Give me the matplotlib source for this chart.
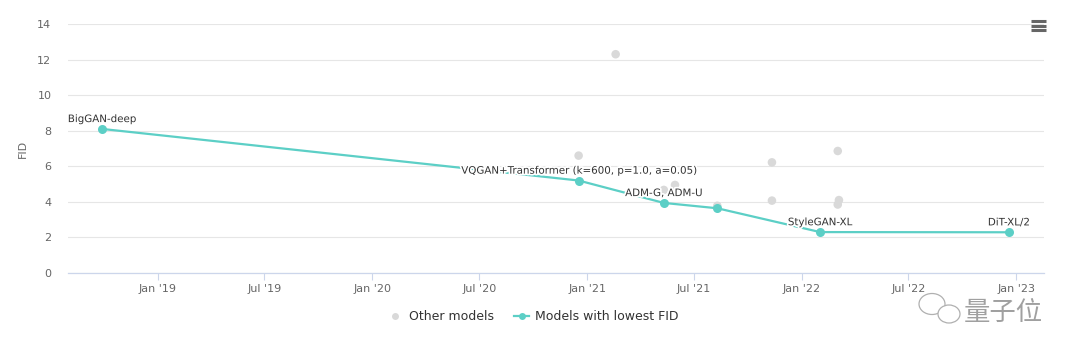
import matplotlib
matplotlib.use("Agg")
import matplotlib.pyplot as plt
import matplotlib.dates as mdates
import matplotlib.patheffects as pe
from matplotlib.lines import Line2D
from matplotlib.patches import Ellipse
import pandas as pd

# models with lowest FID
best_dates = ["2018-09-28", "2020-12-17", "2021-05-11", "2021-08-10", "2022-02-01", "2022-12-19"]
best_fid = [8.1, 5.2, 3.94, 3.64, 2.3, 2.29]
best_names = ["BigGAN-deep", "VQGAN+Transformer (k=600, p=1.0, a=0.05)", "ADM-G, ADM-U", "",
              "StyleGAN-XL", "DiT-XL/2"]

# other models
other_dates = ["2020-12-17", "2021-02-18", "2021-05-11", "2021-05-30", "2021-08-10",
               "2021-11-11", "2021-11-11", "2022-03-03", "2022-03-05", "2022-03-03"]
other_fid = [6.6, 12.3, 4.67, 4.95, 3.78, 6.22, 4.07, 6.86, 4.1, 3.85]

yticks = [0, 2, 4, 6, 8, 10, 12, 14]

teal = "#5ccfc6"
grey = "#d9d9d9"
plt.rcParams["font.family"] = ["DejaVu Sans"]

fig = plt.figure(figsize=(10.8, 3.55), dpi=100)
ax = fig.add_axes([68 / 1080, 82 / 355, 976 / 1080, 249 / 355])

bd = pd.to_datetime(best_dates)
od = pd.to_datetime(other_dates)

ax.scatter(od, other_fid, s=38, color=grey, edgecolors="none", zorder=2)
ax.plot(bd, best_fid, color=teal, lw=1.6, marker="o", ms=6.5, mec="none", zorder=3)

outline = [pe.withStroke(linewidth=2.5, foreground="white")]
for d, v, n in zip(bd, best_fid, best_names):
    if n:
        ax.annotate(n, (d, v), xytext=(0, 3.5), textcoords="offset points", ha="center",
                    va="bottom", fontsize=7.4, color="#333333", path_effects=outline, zorder=4)

ax.set_xlim(pd.Timestamp("2018-08-01"), pd.Timestamp("2023-02-17"))
ax.set_ylim(0, 14)
ax.set_yticks(yticks)
ax.xaxis.set_major_locator(mdates.MonthLocator(bymonth=[1, 7]))
ax.xaxis.set_major_formatter(mdates.DateFormatter("%b '%y"))

ax.grid(axis="y", color="#e6e6e6", lw=0.8)
ax.set_axisbelow(True)
for s in ["top", "right", "left"]:
    ax.spines[s].set_visible(False)
ax.spines["bottom"].set_color("#ccd6eb")
ax.spines["bottom"].set_linewidth(0.9)
ax.tick_params(axis="y", length=0, pad=12, labelsize=8, labelcolor="#666666")
ax.tick_params(axis="x", length=5, width=0.8, color="#ccd6eb", pad=3, labelsize=8,
               labelcolor="#666666")
ax.set_ylabel("FID", fontsize=8, color="#666666")
ax.yaxis.set_label_coords(-0.041, 0.5)

handles = [
    Line2D([], [], ls="none", marker="o", ms=5, color=grey, mec="none"),
    Line2D([], [], color=teal, lw=1.6, marker="o", ms=5, mec="none"),
]
fig.legend(handles, ["Other models", "Models with lowest FID"], loc="center",
           bbox_to_anchor=(533 / 1080, 1 - 317 / 355), ncol=2, frameon=False, fontsize=9,
           labelcolor="#333333", handlelength=1.25, columnspacing=1.6, handletextpad=0.45)

# menu icon
for yy in [21, 25.5, 30]:
    fig.add_artist(Line2D([1031 / 1080, 1046 / 1080], [1 - yy / 355] * 2, color="#666666",
                          lw=2.2, solid_capstyle="butt"))

# watermark
wm = "#b0b0b0"
fig.add_artist(Ellipse((932 / 1080, 1 - 304 / 355), 26 / 1080, 21 / 355, fc="white",
                       ec=wm, lw=0.9))
fig.add_artist(Ellipse((949 / 1080, 1 - 314 / 355), 22 / 1080, 18 / 355, fc="white",
                       ec=wm, lw=0.9))
fig.text(1043 / 1080, 1 - 312 / 355, "量子位", fontsize=19, color="#a0a0a0", ha="right",
         va="center", family=["Noto Sans CJK SC", "DejaVu Sans"], fontweight="light")

fig.savefig("out.png", dpi=100)
